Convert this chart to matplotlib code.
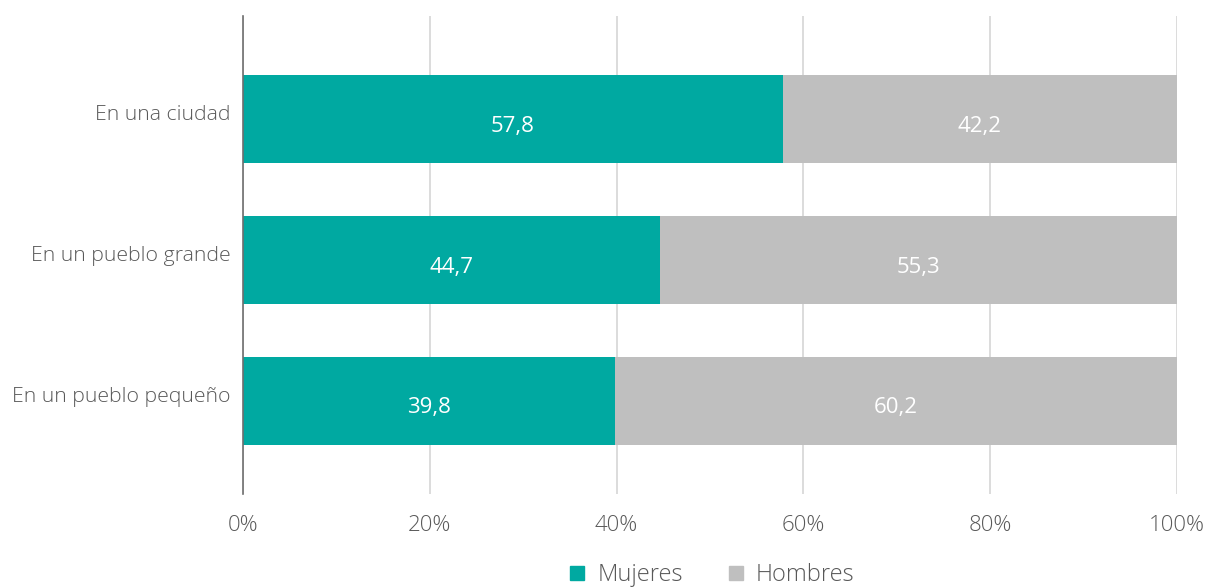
import matplotlib.pyplot as plt
import matplotlib.transforms as mtransforms
from matplotlib.lines import Line2D

plt.rcParams['font.family'] = ['Open Sans', 'DejaVu Sans']

categorias = ['En una ciudad', 'En un pueblo grande', 'En un pueblo pequeño']
mujeres = [57.8, 44.7, 39.8]
hombres = [42.2, 55.3, 60.2]
xticks = [0, 20, 40, 60, 80, 100]
xlabels = ['0%', '20%', '40%', '60%', '80%', '100%']

c_muj = '#00A9A1'
c_hom = '#BFBFBF'
c_txt = '#595959'

fig = plt.figure(figsize=(12.07, 5.87), dpi=100)
ax = fig.add_axes([243/1207, 93/587, 934/1207, 478/587])

pos = list(range(len(categorias)))
ax.barh(pos, mujeres, height=0.625, color=c_muj, zorder=3)
ax.barh(pos, hombres, left=mujeres, height=0.625, color=c_hom, zorder=3)

# etiquetas de valor (un poco por debajo del centro, como en el original)
for i in pos:
    ax.annotate(f'{mujeres[i]:.1f}'.replace('.', ','), xy=(mujeres[i] / 2, i),
                xytext=(0, -5), textcoords='offset points',
                ha='center', va='center', color='white', fontsize=16, zorder=4)
    ax.annotate(f'{hombres[i]:.1f}'.replace('.', ','), xy=(mujeres[i] + hombres[i] / 2, i),
                xytext=(0, -5), textcoords='offset points',
                ha='center', va='center', color='white', fontsize=16, zorder=4)

ax.set_xlim(0, 100)
ax.set_ylim(2.66, -0.734)
ax.set_xticks(xticks)
ax.set_xticklabels(xlabels, fontsize=16, color=c_txt, fontweight='light')
ax.set_yticks(pos)
ax.set_yticklabels(categorias, fontsize=15.3, color=c_txt, fontweight='light')
ax.tick_params(axis='both', length=0)
ax.tick_params(axis='x', pad=15)
ax.tick_params(axis='y', pad=9)
up = mtransforms.ScaledTranslation(0, 7/100, fig.dpi_scale_trans)
for lab in ax.get_yticklabels():
    lab.set_transform(lab.get_transform() + up)
ax.grid(axis='x', color='#D9D9D9', linewidth=1.3, zorder=0)
for s in ['top', 'right', 'bottom']:
    ax.spines[s].set_visible(False)
ax.spines['left'].set_color('#6E6E6E')
ax.spines['left'].set_linewidth(1.2)
ax.spines['left'].set_zorder(5)

handles = [Line2D([], [], marker='s', linestyle='', markersize=9.5, color=c_muj),
           Line2D([], [], marker='s', linestyle='', markersize=9.5, color=c_hom)]
leg = fig.legend(handles, ['Mujeres', 'Hombres'], loc='center', bbox_to_anchor=(710/1207, 1 - 575/587),
                 ncol=2, frameon=False, handletextpad=0.35, columnspacing=1.75,
                 handlelength=1.0, prop={'weight': 'light', 'size': 17})
for t in leg.get_texts():
    t.set_color(c_txt)

fig.savefig('out.png', dpi=100)
